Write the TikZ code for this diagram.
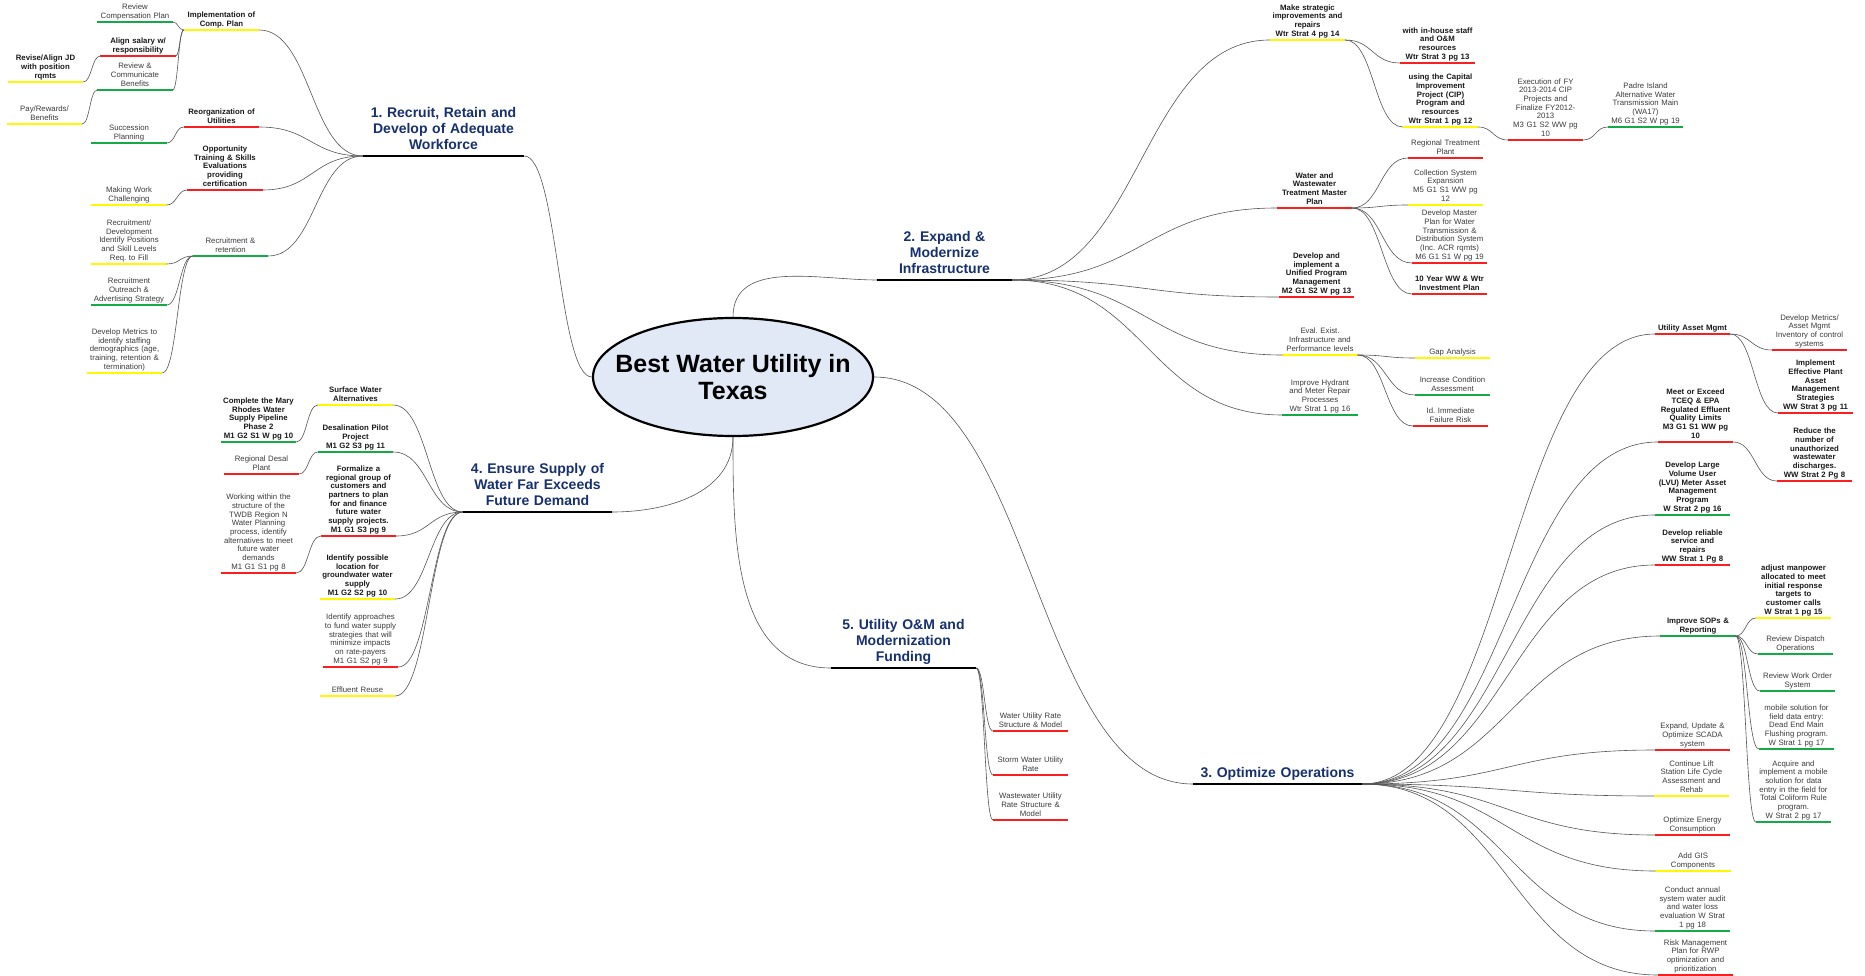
\documentclass[tikz,border=0pt]{standalone}
\usepackage{fontspec}
\setmainfont{Liberation Sans}
\usetikzlibrary{calc,shapes.geometric}
\definecolor{RedClr}{RGB}{250,30,30}
\definecolor{YellowClr}{RGB}{255,248,0}
\definecolor{GreenClr}{RGB}{20,170,70}
\definecolor{TitleClr}{RGB}{22,48,112}
\definecolor{CoreClr}{RGB}{226,233,246}
\definecolor{LinkClr}{RGB}{85,85,85}
\definecolor{TextClr}{RGB}{60,60,60}
\newcommand{\LeafFont}{\fontsize{7.8}{8.7}\selectfont}
\newcommand{\TitleFont}{\fontsize{14}{15.8}\selectfont\bfseries}
\newcommand{\CoreFont}{\fontsize{25}{26.5}\selectfont\bfseries}
\frenchspacing

\begin{document}
\begin{tikzpicture}[x=1pt,y=-1pt,
  leaf/.style={text width=75pt,align=center,inner xsep=0pt,inner ysep=.8pt,anchor=south,
    font=\LeafFont,text=TextClr,execute at end node=\strut,
    append after command={(\tikzlastnode.south west) edge[draw=#1,line width=2.2pt] (\tikzlastnode.south east)}},
  bold/.style={font=\LeafFont\bfseries,text=black!90},
  title/.style={text width=#1,align=center,inner xsep=0pt,inner ysep=1.5pt,anchor=south,
    font=\TitleFont,text=TitleClr,execute at end node=\strut,
    append after command={(\tikzlastnode.south west) edge[draw=black,line width=2.6pt] (\tikzlastnode.south east)}},
  core/.style={ellipse,draw=black,line width=2.2pt,fill=CoreClr,minimum width=280pt,minimum height=118pt,
    inner xsep=-22pt,inner ysep=0pt,align=center,font=\CoreFont},
  link/.style={draw=LinkClr,line width=.6pt,
    to path={let \p1=(\tikztostart),\p2=(\tikztotarget),\n1={(\x2-\x1)/2},\n2={(\x1-\x2)/2} in
      .. controls +(\n1,0) and +(\n2,0) .. (\tikztotarget) \tikztonodes}},
  trunk/.style={draw=LinkClr,line width=.6pt}]

\path[use as bounding box,fill=white] (0,0) rectangle (1865,976);

\node[core] (core) at (733,377) {Best Water Utility in\\Texas};

\node[title=161pt] (t1) at (443.5,156) {1. Recruit, Retain and\\Develop of Adequate\\Workforce};
\node[title=135pt] (t2) at (944.5,280) {2. Expand \&\\Modernize\\Infrastructure};
\node[title=169pt] (t3) at (1277.5,784) {3. Optimize Operations};
\node[title=149pt] (t4) at (537.5,512) {4. Ensure Supply of\\Water Far Exceeds\\Future Demand};
\node[title=145pt] (t5) at (903.5,668) {5. Utility O\&M and\\Modernization\\Funding};

\node[leaf=GreenClr] (rcp) at (135,22) {Review\\Compensation Plan};
\node[leaf=YellowClr,bold] (icp) at (221.5,30) {Implementation of\\Comp. Plan};
\node[leaf=RedClr,bold] (asr) at (138,56) {Align salary w/\\responsibility};
\node[leaf=YellowClr,bold] (raj) at (45.5,82) {Revise/Align JD\\with position\\rqmts};
\node[leaf=GreenClr] (rcb) at (135,90) {Review \&\\Communicate\\Benefits};
\node[leaf=YellowClr] (prb) at (44.5,124) {Pay/Rewards/\\Benefits};
\node[leaf=RedClr,bold] (rou) at (221.5,127) {Reorganization of\\Utilities};
\node[leaf=GreenClr] (sp) at (129,143) {Succession\\Planning};
\node[leaf=RedClr,bold] (ots) at (225,190) {Opportunity\\Training \& Skills\\Evaluations\\providing\\certification};
\node[leaf=YellowClr] (mwc) at (129,205) {Making Work\\Challenging};
\node[leaf=GreenClr] (rrt) at (230.5,256) {Recruitment \&\\retention};
\node[leaf=YellowClr] (rdv) at (129,264) {Recruitment/\\Development\\Identify Positions\\and Skill Levels\\Req. to Fill};
\node[leaf=GreenClr] (roa) at (129,305) {Recruitment\\Outreach \&\\Advertising Strategy};
\node[leaf=YellowClr] (dms) at (124.5,373) {Develop Metrics to\\identify staffing\\demographics (age,\\training, retention \&\\termination)};

\node[leaf=YellowClr,bold] (swa) at (355.5,405) {Surface Water\\Alternatives};
\node[leaf=GreenClr,bold] (cmr) at (258.5,442) {Complete the Mary\\Rhodes Water\\Supply Pipeline\\Phase 2\\M1 G2 S1 W pg 10};
\node[leaf=GreenClr,bold] (dpp) at (355.5,452) {Desalination Pilot\\Project\\M1 G2 S3 pg 11};
\node[leaf=RedClr] (rdp) at (261.5,474) {Regional Desal\\Plant};
\node[leaf=RedClr,bold] (frg) at (358.5,536) {Formalize a\\regional group of\\customers and\\partners to plan\\for and finance\\future water\\supply projects.\\M1 G1 S3 pg 9};
\node[leaf=RedClr] (wtr) at (258.5,573) {Working within the\\structure of the\\TWDB Region N\\Water Planning\\process, identify\\alternatives to meet\\future water\\demands\\M1 G1 S1 pg 8};
\node[leaf=YellowClr,bold] (ipl) at (357.5,599) {Identify possible\\location for\\groundwater water\\supply\\M1 G2 S2 pg 10};
\node[leaf=RedClr] (iaf) at (360.5,667) {Identify approaches\\to fund water supply\\strategies that will\\minimize impacts\\on rate-payers\\M1 G1 S2 pg 9};
\node[leaf=YellowClr] (efr) at (357.5,696) {Effluent Reuse};

\node[leaf=RedClr] (wur) at (1030.5,731) {Water Utility Rate\\Structure \& Model};
\node[leaf=RedClr] (swu) at (1030.5,775) {Storm Water Utility\\Rate};
\node[leaf=RedClr] (wwu) at (1030.5,820) {Wastewater Utility\\Rate Structure \&\\Model};

\node[leaf=YellowClr,bold] (msi) at (1307.5,40) {Make strategic\\improvements and\\repairs\\Wtr Strat 4 pg 14};
\node[leaf=RedClr,bold] (ihs) at (1437.5,63) {with in-house staff\\and O\&M\\resources\\Wtr Strat 3 pg 13};
\node[leaf=YellowClr,bold] (cip) at (1440.5,127) {using the Capital\\Improvement\\Project (CIP)\\Program and\\resources\\Wtr Strat 1 pg 12};
\node[leaf=RedClr] (efy) at (1545.5,140) {Execution of FY\\2013-2014 CIP\\Projects and\\Finalize FY2012-\\2013\\M3 G1 S2 WW pg\\10};
\node[leaf=GreenClr] (pad) at (1645.5,127) {Padre Island\\Alternative Water\\Transmission Main\\(WA17)\\M6 G1 S2 W pg 19};
\node[leaf=RedClr] (rtp) at (1445.5,158) {Regional Treatment\\Plant};
\node[leaf=RedClr,bold] (wwm) at (1314.5,208) {Water and\\Wastewater\\Treatment Master\\Plan};
\node[leaf=YellowClr] (cse) at (1445.5,205) {Collection System\\Expansion\\M5 G1 S1 WW pg\\12};
\node[leaf=RedClr] (dmp) at (1449.5,263) {Develop Master\\Plan for Water\\Transmission \&\\Distribution System\\(Inc. ACR rqmts)\\M6 G1 S1 W pg 19};
\node[leaf=RedClr,bold] (tyi) at (1449.5,294) {10 Year WW \& Wtr\\Investment Plan};
\node[leaf=RedClr,bold] (dup) at (1316.5,297) {Develop and\\implement a\\Unified Program\\Management\\M2 G1 S2 W pg 13};
\node[leaf=YellowClr] (eei) at (1320,355) {Eval. Exist.\\Infrastructure and\\Performance levels};
\node[leaf=YellowClr] (gap) at (1452.5,358) {Gap Analysis};
\node[leaf=GreenClr] (ica) at (1452.5,395) {Increase Condition\\Assessment};
\node[leaf=RedClr] (ifr) at (1450.5,426) {Id. Immediate\\Failure Risk};
\node[leaf=GreenClr] (ihm) at (1320,415) {Improve Hydrant\\and Meter Repair\\Processes\\Wtr Strat 1 pg 16};

\node[leaf=RedClr,bold] (uam) at (1692.5,334) {Utility Asset Mgmt};
\node[leaf=RedClr] (dma) at (1809.5,350) {Develop Metrics/\\Asset Mgmt\\Inventory of control\\systems};
\node[leaf=RedClr,bold] (iep) at (1815.5,413) {Implement\\Effective Plant\\Asset\\Management\\Strategies\\WW Strat 3 pg 11};
\node[leaf=RedClr,bold] (mee) at (1695.5,442) {Meet or Exceed\\TCEQ \& EPA\\Regulated Effluent\\Quality Limits\\M3 G1 S1 WW pg\\10};
\node[leaf=RedClr,bold] (rnu) at (1814.5,481) {Reduce the\\number of\\unauthorized\\wastewater\\discharges.\\WW Strat 2 Pg 8};
\node[leaf=GreenClr,bold] (dlv) at (1692.5,515) {Develop Large\\Volume User\\(LVU) Meter Asset\\Management\\Program\\W Strat 2 pg 16};
\node[leaf=RedClr,bold] (drs) at (1692.5,565) {Develop reliable\\service and\\repairs\\WW Strat 1 Pg 8};
\node[leaf=YellowClr,bold] (amp) at (1793.5,618) {adjust manpower\\allocated to meet\\initial response\\targets to\\customer calls\\W Strat 1 pg 15};
\node[leaf=GreenClr,bold] (isr) at (1698,636) {Improve SOPs \&\\Reporting};
\node[leaf=GreenClr] (rdo) at (1795.5,654) {Review Dispatch\\Operations};
\node[leaf=GreenClr] (rwo) at (1797.5,691) {Review Work Order\\System};
\node[leaf=GreenClr] (msf) at (1796.5,749) {mobile solution for\\field data entry:\\Dead End Main\\Flushing program.\\W Strat 1 pg 17};
\node[leaf=GreenClr] (atc) at (1793.5,822) {Acquire and\\implement a mobile\\solution for data\\entry in the field for\\Total Coliform Rule\\program.\\W Strat 2 pg 17};
\node[leaf=RedClr] (eus) at (1692.5,750) {Expand, Update \&\\Optimize SCADA\\system};
\node[leaf=YellowClr] (cls) at (1691.5,796) {Continue Lift\\Station Life Cycle\\Assessment and\\Rehab};
\node[leaf=RedClr] (oec) at (1692.5,835) {Optimize Energy\\Consumption};
\node[leaf=YellowClr] (agc) at (1693,871) {Add GIS\\Components};
\node[leaf=GreenClr] (caw) at (1692.5,931) {Conduct annual\\system water audit\\and water loss\\evaluation W Strat\\1 pg 18};
\node[leaf=RedClr] (rmp) at (1695.5,975) {Risk Management\\Plan for RWP\\optimization and\\prioritization};

\draw[link] (t1.south east) to (core.west);
\draw[link] (core.east) to (t3.south west);
\draw[trunk] (core.north) to[out=90,in=180] (t2.south west);
\draw[trunk] (core.south) to[out=-90,in=0] (t4.south east);
\draw[trunk] (core.south) to[out=-90,in=180] (t5.south west);

\foreach \kid in {icp,rou,ots,rrt} \draw[link] (t1.south west) to (\kid.south east);
\foreach \kid in {rcp,asr,rcb} \draw[link] (icp.south west) to (\kid.south east);
\draw[link] (asr.south west) to (raj.south east);
\draw[link] (rcb.south west) to (prb.south east);
\draw[link] (rou.south west) to (sp.south east);
\draw[link] (ots.south west) to (mwc.south east);
\foreach \kid in {rdv,roa,dms} \draw[link] (rrt.south west) to (\kid.south east);

\foreach \kid in {swa,dpp,frg,ipl,iaf,efr} \draw[link] (t4.south west) to (\kid.south east);
\draw[link] (swa.south west) to (cmr.south east);
\draw[link] (dpp.south west) to (rdp.south east);
\draw[link] (frg.south west) to (wtr.south east);

\foreach \kid in {wur,swu,wwu} \draw[link] (t5.south east) to (\kid.south west);

\foreach \kid in {msi,wwm,dup,eei,ihm} \draw[link] (t2.south east) to (\kid.south west);
\foreach \kid in {ihs,cip} \draw[link] (msi.south east) to (\kid.south west);
\draw[link] (cip.south east) to (efy.south west);
\draw[link] (efy.south east) to (pad.south west);
\foreach \kid in {rtp,cse,dmp,tyi} \draw[link] (wwm.south east) to (\kid.south west);
\foreach \kid in {gap,ica,ifr} \draw[link] (eei.south east) to (\kid.south west);

\foreach \kid in {uam,mee,dlv,drs,isr,eus,cls,oec,agc,caw,rmp} \draw[link] (t3.south east) to (\kid.south west);
\foreach \kid in {dma,iep} \draw[link] (uam.south east) to (\kid.south west);
\draw[link] (mee.south east) to (rnu.south west);
\foreach \kid in {amp,rdo,rwo,msf,atc} \draw[link] (isr.south east) to (\kid.south west);

\end{tikzpicture}
\end{document}
